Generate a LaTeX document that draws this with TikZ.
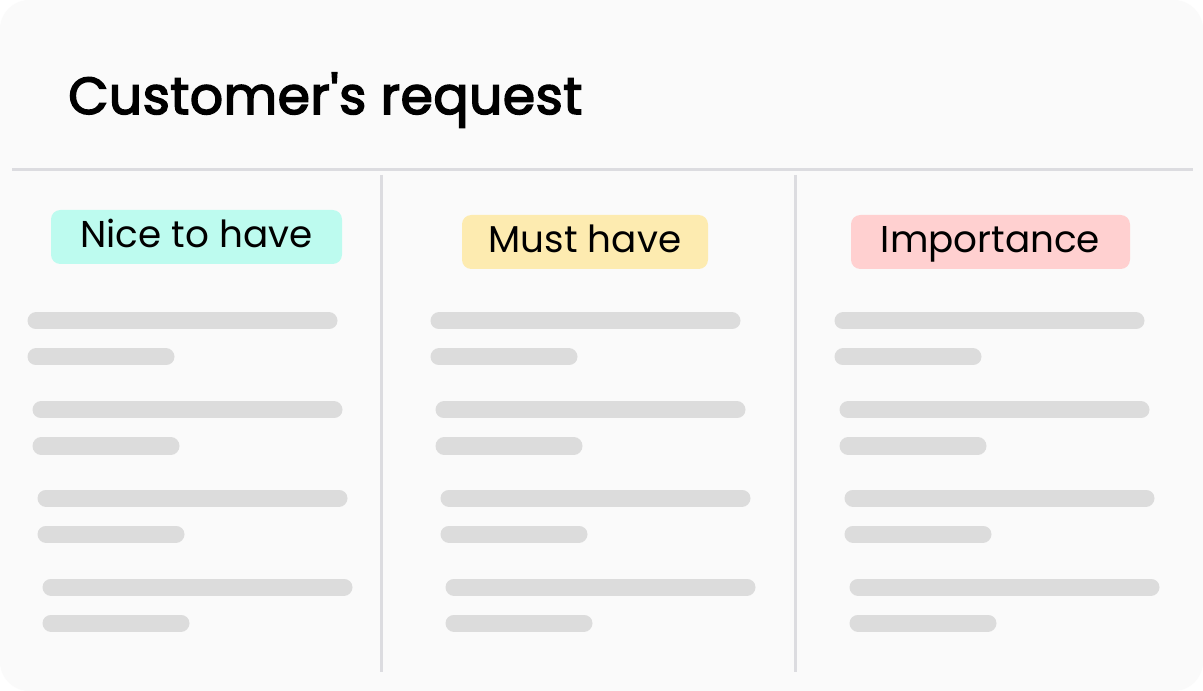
\documentclass[tikz,border=0pt]{standalone}
\usepackage{fontspec}
\setmainfont{Poppins}
\newfontfamily\titlefont{Poppins}[FakeBold=3,LetterSpace=1]
\begin{document}
\begin{tikzpicture}[x=0.75pt,y=-0.75pt,
  bar/.style={line width=12.75pt,line cap=round,draw=barc},
  sep/.style={line width=2.25pt,draw=sepc},
  pill/.style={inner sep=0pt,anchor=base,font=\fontsize{28}{30}\selectfont,text=black}]
\definecolor{bgc}{HTML}{FAFAFA}
\definecolor{barc}{HTML}{DCDCDC}
\definecolor{sepc}{HTML}{DCDCE0}
\definecolor{mint}{HTML}{BDFBEF}
\definecolor{sand}{HTML}{FDEBB0}
\definecolor{rose}{HTML}{FFD0D0}
\useasboundingbox (0,0) rectangle (1203,691);
\fill[white] (0,0) rectangle (1203,691);
\fill[bgc,rounded corners=22pt] (0,0) rectangle (1203,691);
\node[anchor=base west,inner sep=0pt,font=\fontsize{39}{42}\selectfont\titlefont] (title) at (68,114) {Customer\char39 s request};
\coordinate (hl) at (12,170); \coordinate (hr) at (1193,170);
\draw[sep] (hl) -- (hr);
\coordinate (v1t) at (381,175); \coordinate (v1b) at (381,672);
\coordinate (v2t) at (795,175); \coordinate (v2b) at (795,672);
\draw[sep] (v1t) -- (v1b);
\draw[sep] (v2t) -- (v2b);
\fill[mint,rounded corners=7pt] (51,210) rectangle (342,264);
\node[pill] (l1) at (196.5,248) {Nice to have};
\fill[sand,rounded corners=7pt] (462,215) rectangle (708,269);
\node[pill] (l2) at (585,253) {Must have};
\fill[rose,rounded corners=7pt] (851,215) rectangle (1130,269);
\node[pill] (l3) at (990.5,253) {Importance};
\foreach \c in {0,403,807}{
  \foreach \i/\y in {0/321,5/410,10/498,15/587}{
    \draw[bar] (28+\c+\i+8,\y) -- (337+\c+\i-8,\y);
    \draw[bar] (28+\c+\i+8,\y+36) -- (174+\c+\i-8,\y+36);
  }
}
\end{tikzpicture}
\end{document}
